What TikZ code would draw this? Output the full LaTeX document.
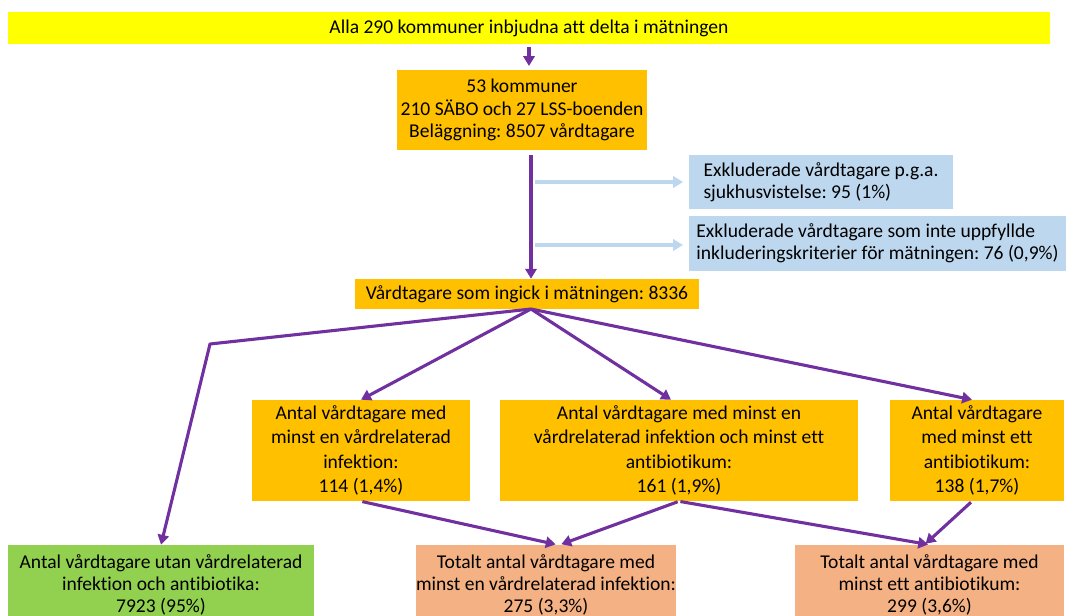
\documentclass[tikz,border=0pt]{standalone}
\usepackage{fontspec}
\setmainfont{Carlito}[Ligatures=NoCommon]
\usepackage{tikz}
\usetikzlibrary{calc,arrows.meta}
\definecolor{gul}{HTML}{FFFF00}
\definecolor{orange}{HTML}{FFC000}
\definecolor{ljusbla}{HTML}{BDD7EE}
\definecolor{gron}{HTML}{92D050}
\definecolor{persika}{HTML}{F4B183}
\definecolor{lila}{HTML}{7030A0}
\tikzset{
  ruta/.style={rectangle,inner sep=2pt,align=center,font=\fontsize{13.9}{15.8}\selectfont},
  hog/.style={ruta,font=\fontsize{13.9}{17.2}\selectfont},
  flode/.style={draw=lila,line width=2.2pt,-{Triangle[length=7pt,width=8pt]}},
  bort/.style={draw=ljusbla,line width=2.2pt,-{Triangle[length=7pt,width=8pt]}},
}
\frenchspacing

\begin{document}
\begin{tikzpicture}[x=0.025cm,y=-0.025cm]
  \useasboundingbox (0,0) rectangle (1070,616);
  \clip (0,0) rectangle (1070,616);
  \node[ruta,fill=gul,minimum width=26.05cm,minimum height=0.8cm](alla)at(529,28){Alla 290 kommuner inbjudna att delta i mätningen};
  \node[ruta,fill=orange,minimum width=6.25cm,minimum height=1.975cm](kommun)at(522,110){53 kommuner\\210 SÄBO och 27 LSS-boenden\\Beläggning: 8507 vårdtagare};
  \node[ruta,fill=ljusbla,minimum width=6.6cm,minimum height=1.35cm,align=left](sjukhus)at(821,182){Exkluderade vårdtagare p.g.a.\\sjukhusvistelse: 95 (1\%)};
  \node[ruta,fill=ljusbla,minimum width=9.425cm,minimum height=1.375cm,align=left](kriterier)at(877.5,243.5){Exkluderade vårdtagare som inte uppfyllde\\inkluderingskriterier för mätningen: 76 (0,9\%)};
  \node[ruta,fill=orange,minimum width=8.6cm,minimum height=0.75cm](ingick)at(527,294){Vårdtagare som ingick i mätningen: 8336};
  \node[hog,fill=orange,minimum width=5.45cm,minimum height=2.525cm](infektion)at(361,450.5){Antal vårdtagare med\\minst en vårdrelaterad\\infektion:\\114 (1,4\%)};
  \node[hog,fill=orange,minimum width=8.95cm,minimum height=2.525cm](bada)at(679,450.5){Antal vårdtagare med minst en\\vårdrelaterad infektion och minst ett\\antibiotikum:\\161 (1,9\%)};
  \node[hog,fill=orange,minimum width=4.35cm,minimum height=2.525cm](antibiotika)at(977,450.5){Antal vårdtagare\\med minst ett\\antibiotikum:\\138 (1,7\%)};
  \node[ruta,fill=gron,minimum width=7.65cm,minimum height=2cm](utan)at(161,585){Antal vårdtagare utan vårdrelaterad\\infektion och antibiotika:\\7923 (95\%)};
  \node[ruta,fill=persika,minimum width=6.5cm,minimum height=2cm,inner xsep=0pt](totinf)at(546,585){Totalt antal vårdtagare med\\minst en vårdrelaterad infektion:\\275 (3,3\%)};
  \node[ruta,fill=persika,minimum width=6.725cm,minimum height=2cm](totab)at(929.5,585){Totalt antal vårdtagare med\\minst ett antibiotikum:\\299 (3,6\%)};
  \coordinate (s1) at (535,182);
  \coordinate (s2) at (535,245);
  \coordinate (knack) at (210,344);
  \coordinate (topp) at (531,309);
  \draw[flode,shorten <=2pt,shorten >=3pt] (alla.south-|529,0) -- (kommun.north-|529,0);
  \draw[flode,shorten <=4pt] (kommun.south-|531,0) -- (ingick.north-|531,0);
  \draw[bort,shorten >=4pt] (s1) -- (sjukhus.west);
  \draw[bort,shorten >=4pt] (s2) -- (kriterier.west|-s2);
  \draw[flode,line join=bevel] (topp) -- (knack) -- (utan.north);
  \draw[flode] (topp) -- (infektion.north);
  \draw[flode] (topp) -- ($(bada.north)+(-8,0)$);
  \draw[flode] (topp) -- ($(antibiotika.north)+(-5,0)$);
  \draw[flode,shorten <=1pt,shorten >=1pt] (infektion.south) -- ($(totinf.north)+(11,0)$);
  \draw[flode,shorten <=1pt,shorten >=1pt] (bada.south) -- ($(totinf.north)+(14,0)$);
  \draw[flode,shorten <=1pt,shorten >=1pt] (bada.south) -- (totab.north);
  \draw[flode,shorten <=1pt,shorten >=1pt] ($(antibiotika.south)+(-5,0)$) -- ($(totab.north)+(-5,0)$);
\end{tikzpicture}
\end{document}
